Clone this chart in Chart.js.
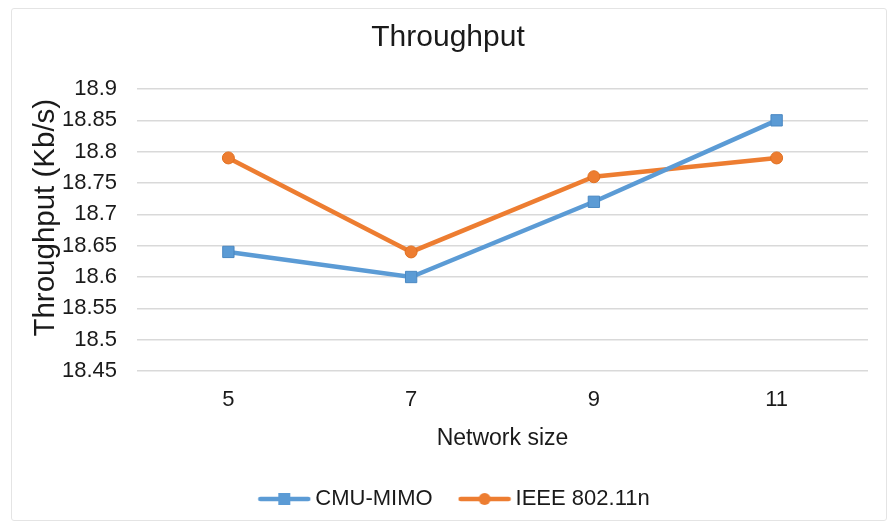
<!DOCTYPE html>
<html>
<head>
<meta charset="utf-8">
<script src="https://cdn.jsdelivr.net/npm/chart.js@4.4.1/dist/chart.umd.min.js"></script>
<style>
  html, body { margin: 0; padding: 0; background: #ffffff; }
  #wrap { position: relative; width: 887px; height: 527px; }
  #frame {
    position: absolute; left: 11px; top: 8px; width: 874px; height: 511px;
    border: 1px solid #e4e4e4; border-radius: 3px; pointer-events: none;
  }
  canvas { display: block; }
</style>
</head>
<body>
<div id="wrap">
  <canvas id="chart" width="887" height="527"></canvas>
  <div id="frame"></div>
</div>
<script>
// Network sizes on the x axis
const networkSizes = ['5', '7', '9', '11'];
// Throughput (Kb/s) per protocol
const cmuMimo = [18.64, 18.60, 18.72, 18.85];
const ieee80211n = [18.79, 18.64, 18.76, 18.79];
// Y axis tick values
const yTicks = [18.45, 18.5, 18.55, 18.6, 18.65, 18.7, 18.75, 18.8, 18.85, 18.9];

const BLUE = '#5b9bd5';
const ORANGE = '#ed7d31';
const FONT = '"Liberation Sans", Arial, sans-serif';

// Legend swatch: a short line with the series marker in the middle
function legendSwatch(color, shape) {
  const c = document.createElement('canvas');
  c.width = 54; c.height = 16;
  const g = c.getContext('2d');
  g.strokeStyle = color; g.lineWidth = 4.5; g.lineCap = 'round';
  g.beginPath(); g.moveTo(3, 8); g.lineTo(51, 8); g.stroke();
  g.fillStyle = color;
  if (shape === 'rect') {
    g.fillRect(21, 2, 12, 12);
  } else {
    g.beginPath(); g.arc(27, 8, 6, 0, Math.PI * 2); g.fill();
  }
  return c;
}

// Nudge the legend row slightly to the right
const legendShift = {
  id: 'legendShift',
  afterLayout(chart) {
    const lg = chart.legend;
    if (lg) { lg.left += 9; lg.right += 9; }
  }
};

new Chart(document.getElementById('chart'), {
  type: 'line',
  plugins: [legendShift],
  data: {
    labels: networkSizes,
    datasets: [
      {
        label: 'CMU-MIMO',
        data: cmuMimo,
        borderColor: BLUE,
        backgroundColor: BLUE,
        borderWidth: 4.5,
        pointStyle: 'rect',
        pointRadius: 8,
        pointBorderWidth: 1,
        pointBorderColor: '#4a88c2',
        tension: 0,
        legendSwatch: legendSwatch(BLUE, 'rect')
      },
      {
        label: 'IEEE 802.11n',
        data: ieee80211n,
        borderColor: ORANGE,
        backgroundColor: ORANGE,
        borderWidth: 4.5,
        pointStyle: 'circle',
        pointRadius: 6,
        pointBorderWidth: 1,
        pointBorderColor: '#e07020',
        tension: 0,
        legendSwatch: legendSwatch(ORANGE, 'circle')
      }
    ]
  },
  options: {
    responsive: false,
    animation: false,
    layout: { padding: { left: 28, right: 19, top: 6, bottom: 7 } },
    plugins: {
      tooltip: { enabled: false },
      title: {
        display: true,
        text: 'Throughput',
        color: '#1a1a1a',
        font: { family: FONT, size: 30, weight: 'normal' },
        padding: { top: 14, bottom: 33 }
      },
      legend: {
        position: 'bottom',
        labels: {
          color: '#1a1a1a',
          font: { family: FONT, size: 22 },
          usePointStyle: true,
          pointStyleWidth: 40,
          padding: 32,
          generateLabels(chart) {
            return chart.data.datasets.map((ds, i) => ({
              text: ds.label,
              pointStyle: ds.legendSwatch,
              fillStyle: ds.backgroundColor,
              strokeStyle: ds.borderColor,
              lineWidth: 0,
              hidden: false,
              datasetIndex: i,
              fontColor: '#1a1a1a'
            }));
          }
        }
      }
    },
    scales: {
      x: {
        offset: true,
        grid: { display: false, drawTicks: false },
        border: { display: false },
        ticks: { color: '#1a1a1a', font: { family: FONT, size: 22 }, padding: 16 },
        title: {
          display: true,
          text: 'Network size',
          color: '#1a1a1a',
          font: { family: FONT, size: 23 },
          padding: { top: -5, bottom: 4 }
        }
      },
      y: {
        min: yTicks[0],
        max: yTicks[yTicks.length - 1],
        grid: { color: '#d9d9d9', lineWidth: 1.5, drawTicks: false },
        border: { display: false },
        afterBuildTicks(scale) {
          scale.ticks = yTicks.map(v => ({ value: v }));
        },
        afterFit(scale) {
          // axis column: title plus labels, ending where the plot begins
          scale.width = 109;
        },
        ticks: {
          autoSkip: false,
          color: '#1a1a1a',
          font: { family: FONT, size: 22 },
          padding: 20,
          callback: (v) => String(Number(Number(v).toFixed(2)))
        },
        title: {
          display: true,
          text: '   Throughput (Kb/s)',
          color: '#1a1a1a',
          font: { family: FONT, size: 29.5 },
          padding: { top: 0, bottom: 0 }
        }
      }
    }
  }
});
</script>
</body>
</html>
